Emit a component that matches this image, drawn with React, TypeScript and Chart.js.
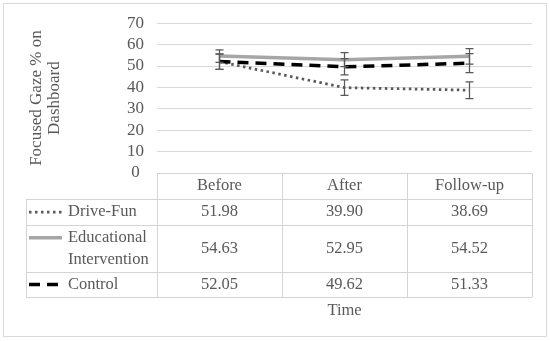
import React, { useEffect, useRef } from "react";
import { Chart, registerables } from "chart.js";

Chart.register(...registerables);

const categories = ["Before", "After", "Follow-up"];
const seriesNames = ["Drive-Fun", "Educational Intervention", "Control"];
const driveFun = [51.98, 39.9, 38.69];
const educational = [54.63, 52.95, 54.52];
const control = [52.05, 49.62, 51.33];
const driveFunErr = [3.6, 3.6, 3.9];
const educationalErr = [2.9, 3.3, 3.6];
const controlErr = [3.65, 3.8, 4.4];
const yMin = 0;
const yMax = 70;
const yStep = 10;
const yTitle = ["Focused Gaze % on", "Dashboard"];
const xTitle = "Time";

const FONT = "'Liberation Serif', 'Times New Roman', serif";
const TEXT = "#595959";
const LINE = "#D9D9D9";

const seriesStyles = [
  { color: "#595959", width: 2.75, dash: [2.5, 3.5] },
  { color: "#A6A6A6", width: 3.5, dash: [] as number[] },
  { color: "#000000", width: 3.5, dash: [11, 7] },
];

const errorBarPlugin = {
  id: "errorBars",
  afterDatasetsDraw(chart: any) {
    const { ctx, scales } = chart;
    const errs = [driveFunErr, educationalErr, controlErr];
    ctx.save();
    ctx.strokeStyle = "#595959";
    ctx.lineWidth = 1.25;
    ctx.setLineDash([]);
    chart.data.datasets.forEach((ds: any, di: number) => {
      ds.data.forEach((v: number, i: number) => {
        const px = scales.x.getPixelForValue(i);
        const yt = scales.y.getPixelForValue(v + errs[di][i]);
        const yb = scales.y.getPixelForValue(v - errs[di][i]);
        ctx.beginPath();
        ctx.moveTo(px, yt);
        ctx.lineTo(px, yb);
        ctx.moveTo(px - 4, yt);
        ctx.lineTo(px + 4, yt);
        ctx.moveTo(px - 4, yb);
        ctx.lineTo(px + 4, yb);
        ctx.stroke();
      });
    });
    ctx.restore();
  },
};

const tablePlugin = {
  id: "dataTable",
  afterDraw(chart: any) {
    const { ctx, chartArea } = chart;
    const L = chartArea.left;
    const R = chartArea.right;
    const n = categories.length;
    const colW = (R - L) / n;
    const tableLeft = 26;
    const top = chartArea.bottom;
    const rowH = [26, 26, 47, 25];
    const ys = [top];
    rowH.forEach((h) => ys.push(ys[ys.length - 1] + h));

    ctx.save();
    ctx.strokeStyle = LINE;
    ctx.lineWidth = 1;
    ctx.strokeRect(3.5, 3.5, 543, 333);

    ctx.strokeStyle = "#D4D4D4";
    ctx.beginPath();
    ctx.moveTo(L, Math.round(ys[0]) + 0.5);
    ctx.lineTo(R, Math.round(ys[0]) + 0.5);
    for (let k = 1; k < ys.length; k++) {
      ctx.moveTo(tableLeft, Math.round(ys[k]) + 0.5);
      ctx.lineTo(R, Math.round(ys[k]) + 0.5);
    }
    for (let k = 0; k <= n; k++) {
      const xx = Math.round(L + k * colW) + 0.5;
      ctx.moveTo(xx, ys[0]);
      ctx.lineTo(xx, ys[ys.length - 1]);
    }
    ctx.moveTo(tableLeft + 0.5, ys[1]);
    ctx.lineTo(tableLeft + 0.5, ys[ys.length - 1]);
    ctx.stroke();

    ctx.fillStyle = TEXT;
    ctx.font = `16.5px ${FONT}`;
    ctx.textBaseline = "middle";
    ctx.textAlign = "center";
    categories.forEach((c, i) => {
      const cx = chart.scales.x.getPixelForValue(i);
      ctx.fillText(c, cx, (ys[0] + ys[1]) / 2);
    });
    const allSeries = [driveFun, educational, control];
    allSeries.forEach((arr, r) => {
      const cy = (ys[r + 1] + ys[r + 2]) / 2;
      arr.forEach((v, i) => {
        const cx = chart.scales.x.getPixelForValue(i);
        ctx.fillText(v.toFixed(2), cx, cy);
      });
    });

    const keyX0 = 29;
    const keyX1 = 62;
    const textX = 68;
    const lineGap = 21.5;
    seriesNames.forEach((name, r) => {
      const cy = (ys[r + 1] + ys[r + 2]) / 2;
      const words = r === 1 ? ["Educational", "Intervention"] : [name];
      const firstY = cy - ((words.length - 1) * lineGap) / 2;
      const st = seriesStyles[r];
      ctx.save();
      ctx.strokeStyle = st.color;
      ctx.lineWidth = st.width;
      ctx.setLineDash(st.dash);
      ctx.beginPath();
      ctx.moveTo(keyX0, firstY);
      ctx.lineTo(keyX1, firstY);
      ctx.stroke();
      ctx.restore();
      ctx.textAlign = "left";
      words.forEach((w, j) => {
        ctx.fillText(w, textX, firstY + j * lineGap);
      });
    });

    ctx.textAlign = "center";
    ctx.fillText(xTitle, (L + R) / 2, ys[ys.length - 1] + 14);
    ctx.restore();
  },
};

export default function App() {
  const ref = useRef<HTMLCanvasElement | null>(null);
  useEffect(() => {
    document.body.style.margin = "0";
    if (!ref.current) return;
    const datasets = [driveFun, educational, control].map((d, i) => ({
      label: seriesNames[i],
      data: d,
      borderColor: seriesStyles[i].color,
      backgroundColor: seriesStyles[i].color,
      borderWidth: seriesStyles[i].width,
      borderDash: seriesStyles[i].dash,
      pointRadius: 0,
      tension: 0,
      fill: false,
      order: i === 2 ? 0 : i === 0 ? 1 : 2,
    }));
    const chart = new Chart(ref.current, {
      type: "line",
      data: { labels: categories, datasets },
      options: {
        animation: false,
        responsive: false,
        devicePixelRatio: 1,
        layout: { padding: { left: 0, top: 20, right: 18, bottom: 168 } },
        plugins: { legend: { display: false }, tooltip: { enabled: false } },
        scales: {
          x: {
            type: "category",
            display: false,
            offset: true,
          },
          y: {
            min: yMin,
            max: yMax,
            afterFit: (scale: any) => {
              scale.width = 157;
            },
            border: { display: false },
            grid: { color: LINE, lineWidth: 1, drawTicks: false },
            ticks: {
              stepSize: yStep,
              autoSkip: false,
              color: TEXT,
              font: { family: FONT, size: 17 },
              padding: 13,
              crossAlign: "center",
            },
            title: {
              display: true,
              text: yTitle,
              color: TEXT,
              font: { family: FONT, size: 17, lineHeight: 1.08 },
              padding: { top: 27, bottom: 0 },
            },
          },
        },
      },
      plugins: [errorBarPlugin, tablePlugin],
    } as any);
    return () => chart.destroy();
  }, []);
  return (
    <div style={{ width: 550, height: 341 }}>
      <canvas ref={ref} width={550} height={341} style={{ display: "block" }} />
    </div>
  );
}
